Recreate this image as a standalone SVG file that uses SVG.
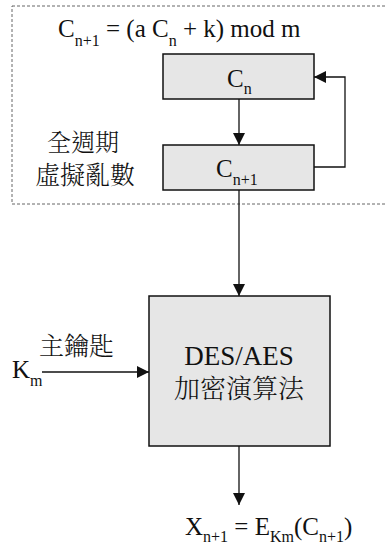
<svg xmlns="http://www.w3.org/2000/svg" width="385" height="544" viewBox="0 0 385 544">
<style>
.box{fill:#e6e6e6;stroke:#111;stroke-width:1.5}
.ln{stroke:#111;stroke-width:1.3;fill:none}
</style>
<defs>
<marker id="ah" viewBox="0 0 10 10" refX="10" refY="5" markerWidth="12" markerHeight="12" markerUnits="userSpaceOnUse" orient="auto">
<path d="M0,0 L10,5 L0,10 z" fill="#111"/>
</marker>
</defs>
<rect x="12" y="6" width="380" height="198" fill="none" stroke="#666" stroke-width="1" stroke-dasharray="3,2"/>
<g id="title"><text font-family="Liberation Serif, serif" fill="#111" x="58" y="37" font-size="25">C<tspan font-size="16" dy="9">n+1</tspan><tspan dy="-9"> = (a C</tspan><tspan font-size="16" dy="9">n</tspan><tspan dy="-9"> + k) mod m</tspan></text></g>
<g id="cn"><rect class="box" x="163" y="54" width="151" height="45"/><text font-family="Liberation Serif, serif" fill="#111" x="227" y="87" font-size="25">C<tspan font-size="16" dy="7">n</tspan></text></g>
<g id="cn1"><rect class="box" x="163" y="145" width="151" height="45"/><text font-family="Liberation Serif, serif" fill="#111" x="216" y="177" font-size="25">C<tspan font-size="16" dy="8">n+1</tspan></text></g>
<g id="label1"><text font-family="Noto Serif CJK TC, Noto Sans CJK TC, serif" font-weight="300" fill="#111" x="47" y="151" font-size="24">全週期</text><text font-family="Noto Serif CJK TC, Noto Sans CJK TC, serif" font-weight="300" fill="#111" x="35" y="184" font-size="25">虛擬亂數</text></g>
<g id="enc"><rect class="box" x="149" y="296" width="181" height="150"/><text font-family="Liberation Serif, serif" fill="#111" x="239" y="365" font-size="27" text-anchor="middle">DES/AES</text><text font-family="Noto Serif CJK TC, Noto Sans CJK TC, serif" font-weight="300" fill="#111" x="239" y="398" font-size="26" text-anchor="middle">加密演算法</text></g>
<g id="key"><text font-family="Noto Serif CJK TC, Noto Sans CJK TC, serif" font-weight="300" fill="#111" x="39" y="355" font-size="25">主鑰匙</text><text font-family="Liberation Serif, serif" fill="#111" x="12" y="378" font-size="25">K<tspan font-size="16" dy="8">m</tspan></text></g>
<g id="out"><text font-family="Liberation Serif, serif" fill="#111" x="185" y="535" font-size="25">X<tspan font-size="16" dy="7">n+1</tspan><tspan dy="-7"> = E</tspan><tspan font-size="16" dy="7">Km</tspan><tspan dy="-7">(C</tspan><tspan font-size="16" dy="7">n+1</tspan><tspan dy="-7">)</tspan></text></g>
<g id="connectors">
<line class="ln" x1="239" y1="99" x2="239" y2="145" marker-end="url(#ah)"/>
<polyline class="ln" points="314,167 345,167 345,77 314,77" marker-end="url(#ah)"/>
<line class="ln" x1="239" y1="190" x2="239" y2="296" marker-end="url(#ah)"/>
<line class="ln" x1="42" y1="372" x2="149" y2="372" marker-end="url(#ah)"/>
<line class="ln" x1="239" y1="446" x2="239" y2="505" marker-end="url(#ah)"/>
</g>
</svg>
